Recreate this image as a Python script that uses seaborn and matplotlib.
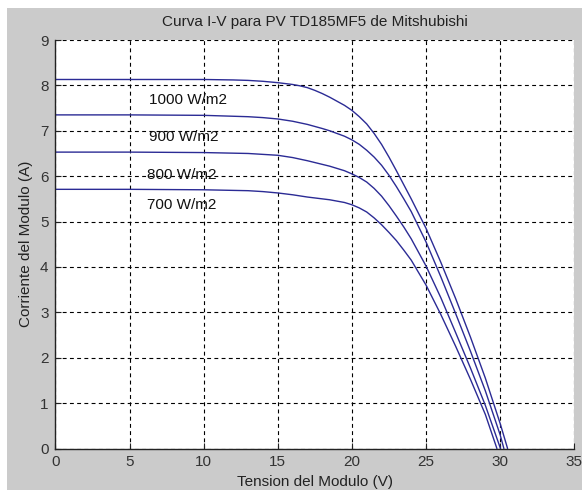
import matplotlib
matplotlib.use("Agg")
import matplotlib.pyplot as plt
from matplotlib.patches import Rectangle
import pandas as pd
import seaborn as sns

# I-V curves (V in volts, I in amps)
v_1000 = [0, 5, 10, 12, 13, 14, 15, 16, 16.5, 17, 17.5, 18, 18.5, 19, 19.5, 20, 20.5, 21, 21.5,
          22, 22.5, 23, 23.5, 24, 25, 26, 27, 28, 29, 30, 30.5]
i_1000 = [8.13, 8.13, 8.13, 8.12, 8.11, 8.09, 8.06, 8.02, 7.99, 7.95, 7.89, 7.82, 7.74, 7.65, 7.56,
          7.45, 7.31, 7.15, 6.94, 6.70, 6.42, 6.12, 5.81, 5.50, 4.85, 4.10, 3.30, 2.45, 1.55, 0.55, 0.0]

v_900 = [0, 5, 10, 13, 14, 15, 16, 17, 18, 18.5, 19, 19.5, 20, 20.5, 21, 21.5, 22, 22.5, 23, 23.5,
         24, 25, 26, 27, 28, 29, 30, 30.25]
i_900 = [7.35, 7.35, 7.34, 7.31, 7.29, 7.26, 7.21, 7.14, 7.05, 7.00, 6.94, 6.88, 6.80, 6.70, 6.57,
         6.42, 6.24, 6.02, 5.77, 5.50, 5.22, 4.55, 3.78, 2.97, 2.14, 1.27, 0.30, 0.0]

v_800 = [0, 5, 10, 13, 14, 15, 16, 17, 18, 18.5, 19, 19.5, 20, 20.5, 21, 21.5, 22, 22.5, 23, 23.5,
         24, 25, 26, 27, 28, 29, 30.02]
i_800 = [6.53, 6.53, 6.52, 6.50, 6.48, 6.46, 6.41, 6.34, 6.26, 6.22, 6.17, 6.12, 6.05, 5.97, 5.87,
         5.73, 5.56, 5.35, 5.12, 4.88, 4.62, 4.02, 3.32, 2.55, 1.77, 0.95, 0.0]

v_700 = [0, 5, 10, 13, 14, 15, 16, 17, 18, 18.5, 19, 19.5, 20, 20.5, 21, 21.5, 22, 22.5, 23, 23.5,
         24, 25, 26, 27, 28, 29, 29.78]
i_700 = [5.71, 5.71, 5.70, 5.68, 5.66, 5.63, 5.59, 5.54, 5.50, 5.48, 5.45, 5.42, 5.37, 5.30, 5.21,
         5.08, 4.93, 4.76, 4.58, 4.37, 4.15, 3.60, 2.95, 2.25, 1.52, 0.75, 0.0]

labels = ["1000 W/m2", "900 W/m2", "800 W/m2", "700 W/m2"]
label_x = [6.3, 6.3, 6.2, 6.2]
label_y = [7.68, 6.87, 6.03, 5.37]

curves = [(v_1000, i_1000), (v_900, i_900), (v_800, i_800), (v_700, i_700)]
rows = []
for lab, (vv, ii) in zip(labels, curves):
    for a, b in zip(vv, ii):
        rows.append({"V": a, "I": b, "G": lab})
df = pd.DataFrame(rows)

sns.set_style("white")
plt.rcParams["font.family"] = ["Liberation Sans", "DejaVu Sans"]
plt.rcParams["font.size"] = 11

gray = "#cbcbcb"
line_col = "#2b2b95"

fig = plt.figure(figsize=(5.82, 4.90), dpi=100, facecolor="white")
fig.patches.append(Rectangle((7 / 582, 0), 1, 482 / 490, transform=fig.transFigure,
                             facecolor=gray, edgecolor="none", zorder=-10))
ax = fig.add_axes([55.4 / 582, 41.5 / 490, (574.3 - 55.4) / 582, (448.5 - 40) / 490])
ax.set_facecolor("white")

sns.lineplot(data=df, x="V", y="I", hue="G", palette=[line_col] * 4, sort=False,
             estimator=None, legend=False, linewidth=1.0, ax=ax)

for t, x, y in zip(labels, label_x, label_y):
    ax.text(x, y, t, ha="left", va="center", fontsize=11, color="#111111")

ax.set_xlim(0, 35)
ax.set_ylim(0, 9)
ax.set_xticks(range(0, 36, 5))
ax.set_yticks(range(0, 10))
ax.grid(True, color="black", linestyle=(0, (3.5, 3)), linewidth=0.8)
ax.set_axisbelow(True)

for s in ["top", "right"]:
    ax.spines[s].set_visible(False)
for s in ["left", "bottom"]:
    ax.spines[s].set_color("#222222")
    ax.spines[s].set_linewidth(1.0)

ax.tick_params(direction="in", length=4, width=0.8, colors="#222222", labelcolor="#333333",
               labelsize=11, pad=5, left=True, bottom=True)

ax.set_title("Curva I-V para PV TD185MF5 de Mitshubishi", fontsize=11, pad=10, color="#222222")
ax.set_xlabel("Tension del Modulo (V)", fontsize=11, color="#222222")
ax.set_ylabel("Corriente del Modulo (A)", fontsize=11, color="#222222")
ax.xaxis.set_label_coords(0.5, -0.065)
ax.yaxis.set_label_coords(-0.043, 0.5)

fig.savefig("out.png", dpi=100, facecolor=fig.get_facecolor())
